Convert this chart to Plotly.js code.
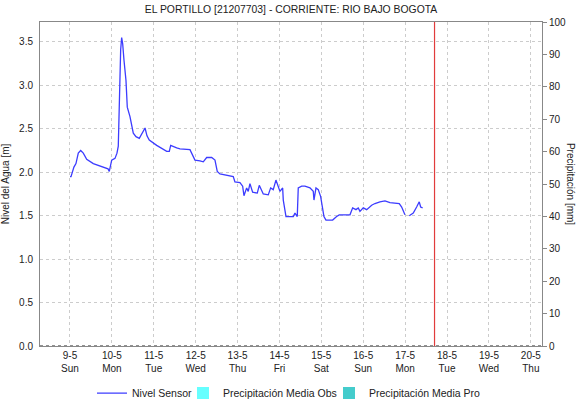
<!DOCTYPE html>
<html>
<head>
<meta charset="utf-8">
<script src="https://cdn.plot.ly/plotly-3.0.1.min.js"></script>
<style>html,body{margin:0;padding:0;background:#fff}#chart{width:577px;height:404px}</style>
</head>
<body>
<div id="chart"></div>
<script>
const times = [
"2021-05-09 00:00","2021-05-09 00:35","2021-05-09 02:15","2021-05-09 03:25","2021-05-09 04:45","2021-05-09 06:08",
"2021-05-09 07:37","2021-05-09 09:34","2021-05-09 13:21","2021-05-09 17:11","2021-05-09 20:03","2021-05-09 21:46",
"2021-05-09 22:30","2021-05-09 23:53","2021-05-10 01:47","2021-05-10 02:55","2021-05-10 03:40","2021-05-10 04:04",
"2021-05-10 04:38","2021-05-10 05:02","2021-05-10 05:36","2021-05-10 06:11","2021-05-10 06:56","2021-05-10 08:04",
"2021-05-10 08:49","2021-05-10 10:22","2021-05-10 12:16","2021-05-10 13:48","2021-05-10 15:42","2021-05-10 17:14",
"2021-05-10 19:00","2021-05-10 20:06","2021-05-10 21:25","2021-05-11 01:40","2021-05-11 04:42","2021-05-11 07:24",
"2021-05-11 08:53","2021-05-11 09:41","2021-05-11 13:07","2021-05-11 15:00","2021-05-11 20:44","2021-05-11 22:37",
"2021-05-11 23:35","2021-05-12 02:28","2021-05-12 04:21","2021-05-12 06:18","2021-05-12 09:10","2021-05-12 11:03",
"2021-05-12 12:22","2021-05-12 13:55","2021-05-12 19:39","2021-05-12 21:32","2021-05-12 22:30","2021-05-13 01:22",
"2021-05-13 02:55","2021-05-13 03:40","2021-05-13 05:12","2021-05-13 06:07","2021-05-13 07:05","2021-05-13 08:38",
"2021-05-13 11:17","2021-05-13 12:26","2021-05-13 14:43","2021-05-13 17:35","2021-05-13 18:57","2021-05-13 20:26",
"2021-05-13 21:59","2021-05-14 00:17","2021-05-14 01:50","2021-05-14 02:11","2021-05-14 03:44","2021-05-14 07:55",
"2021-05-14 08:53","2021-05-14 10:12","2021-05-14 10:46","2021-05-14 12:43","2021-05-14 14:36","2021-05-14 17:28",
"2021-05-14 19:22","2021-05-14 19:46","2021-05-14 20:55","2021-05-14 22:14","2021-05-14 23:36","2021-05-15 01:29",
"2021-05-15 02:38","2021-05-15 06:28","2021-05-15 08:45","2021-05-15 10:15","2021-05-15 16:24","2021-05-15 17:56",
"2021-05-15 19:49","2021-05-15 21:08","2021-05-15 22:07","2021-05-16 00:00","2021-05-16 01:57","2021-05-16 04:49",
"2021-05-16 06:42","2021-05-16 09:34","2021-05-16 12:26","2021-05-16 15:18","2021-05-16 20:38","2021-05-16 22:00",
"2021-05-16 23:53","2021-05-17 01:00","2021-05-17 02:21","2021-05-17 04:39","2021-05-17 06:35","2021-05-17 08:05",
"2021-05-17 08:53","2021-05-17 10:01"
];
const nivelSensor = [
1.95,1.95,2.06,2.10,2.22,2.25,
2.22,2.15,2.10,2.07,2.05,2.04,
2.01,2.14,2.16,2.22,2.30,2.68,
3.20,3.41,3.55,3.48,3.29,3.06,
2.75,2.64,2.45,2.41,2.39,2.44,
2.51,2.42,2.37,2.31,2.27,2.24,
2.24,2.31,2.28,2.27,2.26,2.18,
2.14,2.13,2.12,2.17,2.17,2.14,
2.01,1.98,1.96,1.95,1.89,1.88,
1.84,1.73,1.82,1.78,1.87,1.77,
1.76,1.85,1.75,1.74,1.82,1.80,
1.91,1.78,1.82,1.68,1.49,1.49,
1.53,1.49,1.82,1.84,1.84,1.82,
1.78,1.68,1.82,1.80,1.72,1.49,
1.45,1.45,1.49,1.51,1.51,1.59,
1.57,1.59,1.55,1.59,1.57,1.62,
1.64,1.66,1.67,1.65,1.64,1.60,
1.51,null,1.50,1.53,1.60,1.66,
1.60,1.59
];
const precipTimes = ["2021-05-09 00:00"];
const precipObs = [0];
const precipPro = [0];
const tickDates = ["2021-05-09","2021-05-10","2021-05-11","2021-05-12","2021-05-13","2021-05-14",
  "2021-05-15","2021-05-16","2021-05-17","2021-05-18","2021-05-19","2021-05-20"];
const tickLabels = ["9-5<br>Sun","10-5<br>Mon","11-5<br>Tue","12-5<br>Wed","13-5<br>Thu","14-5<br>Fri",
  "15-5<br>Sat","16-5<br>Sun","17-5<br>Mon","18-5<br>Tue","19-5<br>Wed","20-5<br>Thu"];
const nowTime = "2021-05-17 16:50";

const fam = "Liberation Sans, Arial, sans-serif";
const font = {family: fam, size: 10, color: "#222"};

const traces = [
  {type: "scatter", mode: "lines", name: "Nivel Sensor", x: times, y: nivelSensor,
   line: {color: "rgb(60,60,255)", width: 1.3}, connectgaps: false, xaxis: "x", yaxis: "y", legend: "legend"},
  {type: "bar", name: "Precipitación Media Obs", x: precipTimes, y: precipObs,
   marker: {color: "#66ffff", line: {width: 0}}, xaxis: "x", yaxis: "y2", legend: "legend2"},
  {type: "bar", name: "Precipitación Media Pro", x: precipTimes, y: precipPro,
   marker: {color: "#44cccc", line: {width: 0}}, xaxis: "x", yaxis: "y2", legend: "legend3"}
];

const legBase = {orientation: "h", xref: "container", xanchor: "left",
  y: 0.027, yref: "container", yanchor: "middle",
  font: {family: fam, size: 10.5, color: "#222"},
  itemwidth: 30, bgcolor: "rgba(0,0,0,0)", borderwidth: 0};

const layout = {
  width: 577, height: 404,
  margin: {l: 40, r: 35, t: 22, b: 58},
  paper_bgcolor: "#fff", plot_bgcolor: "#fff",
  font: font,
  showlegend: true,
  title: {text: "EL PORTILLO [21207703] - CORRIENTE: RIO BAJO BOGOTA",
    font: {family: fam, size: 10.4, color: "#222"},
    x: 0.5, xref: "paper", xanchor: "center", y: 0.976, yref: "container", yanchor: "middle"},
  xaxis: {type: "date", range: ["2021-05-08 06:49", "2021-05-20 06:24"],
    tickmode: "array", tickvals: tickDates, ticktext: tickLabels,
    showgrid: true, gridcolor: "#cccccc", griddash: "dot", gridwidth: 1,
    showline: true, linecolor: "#888", linewidth: 1, mirror: true,
    ticks: "", tickfont: {family: fam, size: 10, color: "#222"},
    zeroline: false, fixedrange: true},
  yaxis: {range: [0, 3.73], tickvals: [0, 0.5, 1, 1.5, 2, 2.5, 3, 3.5], tickformat: ".1f",
    showgrid: true, gridcolor: "#cccccc", griddash: "dot", gridwidth: 1,
    showline: true, linecolor: "#888", linewidth: 1, ticks: "",
    ticklabelstandoff: 4,
    zeroline: false,
    title: {text: "Nivel del Agua [m]", font: {family: fam, size: 10, color: "#222"}, standoff: 10}},
  yaxis2: {range: [0, 100], overlaying: "y", side: "right", dtick: 10,
    showgrid: false, showline: true, linecolor: "#888", linewidth: 1,
    ticks: "outside", ticklen: 4, tickcolor: "#888", zeroline: false},
  shapes: [
    {type: "line", xref: "paper", yref: "y", x0: 0, x1: 1, y0: 0, y1: 0,
     line: {color: "#222", width: 1, dash: "dot"}},
    {type: "line", xref: "x", yref: "paper", x0: nowTime, x1: nowTime, y0: 0, y1: 1,
     line: {color: "rgb(225,60,60)", width: 1.2}}
  ],
  annotations: [
    {text: "Precipitación [mm]", xref: "paper", yref: "paper", x: 1.058, y: 0.5,
     xanchor: "center", yanchor: "middle", textangle: 90, showarrow: false,
     font: {family: fam, size: 10, color: "#222"}}
  ],
  legend: Object.assign({}, legBase, {x: 92 / 577}),
  legend2: Object.assign({}, legBase, {x: 183 / 577}),
  legend3: Object.assign({}, legBase, {x: 329 / 577}),
  bargap: 0
};

Plotly.newPlot("chart", traces, layout, {displayModeBar: false, staticPlot: true});
</script>
</body>
</html>
